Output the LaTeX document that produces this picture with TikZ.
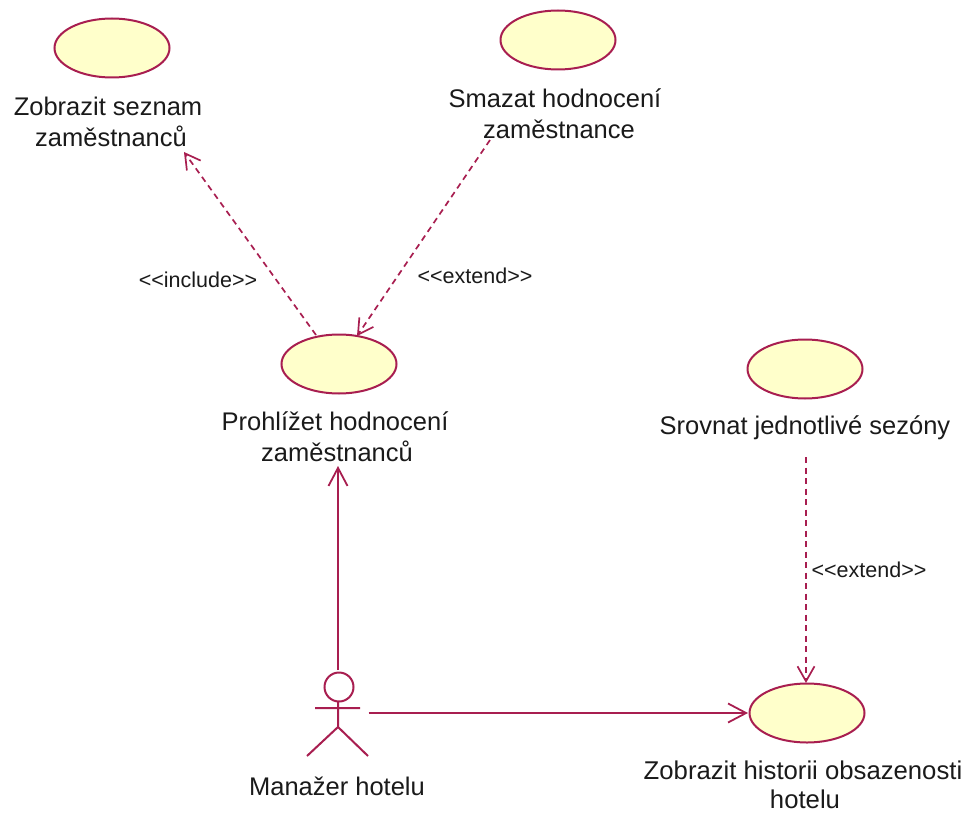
\documentclass[tikz,border=0pt]{standalone}
\usepackage{fontspec}
\setmainfont{Liberation Sans}
\usetikzlibrary{arrows.meta,shapes.geometric}
\definecolor{umlline}{HTML}{A81E50}
\definecolor{umlfill}{HTML}{FFFFCB}
\definecolor{umltext}{HTML}{1A1A1A}
\tikzset{
  x=1pt,y=-1pt,
  usecase/.style={ellipse,draw=umlline,fill=umlfill,line width=2pt,minimum width=115pt,minimum height=59pt,inner sep=0pt},
  caption/.style={align=center,text=umltext,font=\fontsize{25.5}{31}\selectfont,inner sep=0pt},
  stereo/.style={text=umltext,font=\fontsize{21.5}{24}\selectfont,inner sep=0pt},
  assoc/.style={draw=umlline,line width=2pt,-{Straight Barb[length=18pt,width=19pt,line width=1.8pt]}},
  dep/.style={draw=umlline,line width=1.7pt,dash pattern=on 6pt off 4.5pt,-{Straight Barb[length=15pt,width=17pt,line width=1.7pt]}},
  actorline/.style={draw=umlline,line width=2pt}
}
\begin{document}
\begin{tikzpicture}
\useasboundingbox (0,0) rectangle (966,813);
\node[usecase] (zob) at (112,48) {};
\node[usecase] (sma) at (558,40) {};
\node[usecase] (pro) at (339,364) {};
\node[usecase] (srov) at (805,369) {};
\node[usecase] (his) at (807,713) {};
\node[caption] (zobt) at (108,122) {Zobrazit seznam\\\hspace*{6pt}zaměstnanců};
\node[caption] (smat) at (555,114) {Smazat hodnocení\\\hspace*{8pt}zaměstnance};
\node[caption] (prot) at (335,437) {Prohlížet hodnocení\\\hspace*{4pt}zaměstnanců};
\node[caption] (srovt) at (805,428) {Srovnat jednotlivé sezóny};
\node[caption,font=\fontsize{25.7}{29}\selectfont] (hist) at (803,785) {Zobrazit historii obsazenosti\\\hspace*{4pt}hotelu};
\node[caption] (mant) at (337,786) {Manažer hotelu};
\node[stereo] (inc) at (198,280) {<{}<include>{}>};
\node[stereo] (ext1) at (475,276) {<{}<extend>{}>};
\node[stereo] (ext2) at (869,570) {<{}<extend>{}>};
% actor
\node[minimum width=61pt,minimum height=84pt,inner sep=0pt] (actor) at (338,713) {};
\node[circle,draw=umlline,line width=2pt,minimum size=29pt,inner sep=0pt] (head) at (339,687) {};
\coordinate (neck) at (338,702);
\coordinate (hip) at (338,727);
\coordinate (handl) at (315,708);
\coordinate (handr) at (360,708);
\coordinate (footl) at (307,756);
\coordinate (footr) at (368,756);
\draw[actorline] (neck) -- (hip) (handl) -- (handr) (footl) -- (hip) -- (footr);
% connector ends
\coordinate (a1) at (338,670);
\coordinate (a2) at (338,466);
\coordinate (b2) at (748,713);
\coordinate (c1) at (316,335);
\coordinate (c2) at (184,152);
\coordinate (d1) at (490,140);
\coordinate (d2) at (357,336);
\coordinate (e1) at (806,457);
\coordinate (e2) at (806,683);
\draw[assoc] (a1) -- (a2);
\draw[assoc] (actor.east) -- (b2);
\draw[dep] (c1) -- (c2);
\draw[dep] (d1) -- (d2);
\draw[dep] (e1) -- (e2);
\end{tikzpicture}
\end{document}
